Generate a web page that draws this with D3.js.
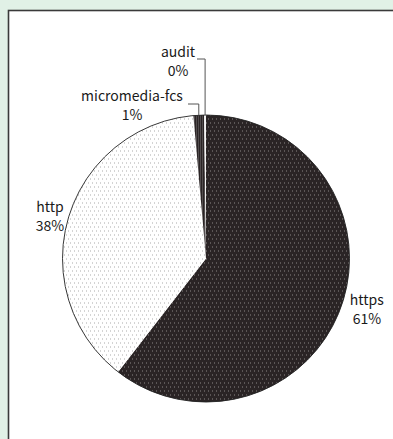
<!DOCTYPE html>
<html><head><meta charset="utf-8">
<script src="https://cdn.jsdelivr.net/npm/d3@7"></script>
<style>
html,body{margin:0;padding:0;background:#e1f1e6;}
svg{display:block;}
</style></head>
<body>
<script>
const categories = ["https", "http", "micromedia-fcs", "audit"];
const values = [60.5, 38.1, 1.2, 0.2];

const W = 393, H = 439;
const cx = 206, cy = 258.5, R = 143.5;

const svg = d3.select("body").append("svg").attr("width", W).attr("height", H);
svg.append("rect").attr("width", W).attr("height", H).attr("fill", "#e1f1e6");
svg.append("rect").attr("x", 8.5).attr("y", 10.5).attr("width", W + 10).attr("height", H + 10)
  .attr("fill", "#fff").attr("stroke", "#3a3a3a").attr("stroke-width", 1.6);

const defs = svg.append("defs");
let p = defs.append("pattern").attr("id", "pHttps").attr("patternUnits", "userSpaceOnUse").attr("width", 4).attr("height", 8);
p.append("rect").attr("width", 4).attr("height", 8).attr("fill", "#2a2425");
p.append("rect").attr("x", 0).attr("y", 0).attr("width", 1).attr("height", 1).attr("fill", "#8c8888");
p.append("rect").attr("x", 2).attr("y", 4).attr("width", 1).attr("height", 1).attr("fill", "#8c8888");
p = defs.append("pattern").attr("id", "pHttp").attr("patternUnits", "userSpaceOnUse").attr("width", 4).attr("height", 8);
p.append("rect").attr("width", 4).attr("height", 8).attr("fill", "#ffffff");
p.append("rect").attr("x", 0).attr("y", 0).attr("width", 1).attr("height", 1).attr("fill", "#a8a8a8");
p.append("rect").attr("x", 2).attr("y", 4).attr("width", 1).attr("height", 1).attr("fill", "#a8a8a8");
p = defs.append("pattern").attr("id", "pMm").attr("patternUnits", "userSpaceOnUse").attr("width", 2).attr("height", 2);
p.append("rect").attr("width", 2).attr("height", 2).attr("fill", "#2a2425");
p.append("rect").attr("x", 0).attr("y", 0).attr("width", 1).attr("height", 1).attr("fill", "#7a7676");

const fills = ["url(#pHttps)", "url(#pHttp)", "url(#pMm)", "#f4f4f4"];

const data = categories.map((c, i) => ({ name: c, value: values[i] }));
const pie = d3.pie().value(d => d.value).sort(null).startAngle(0).endAngle(2 * Math.PI);
const arcs = pie(data);
const arc = d3.arc().innerRadius(0).outerRadius(R);

const g = svg.append("g").attr("transform", `translate(${cx},${cy})`);
g.selectAll("path").data(arcs).enter().append("path")
  .attr("d", arc).attr("fill", (d, i) => fills[i]);
// outer outline
g.append("circle").attr("r", R).attr("fill", "none").attr("stroke", "#222").attr("stroke-width", 0.9);

const total = d3.sum(values);
const font = "'Noto Sans CJK JP', sans-serif";
const fs = 14;
const lineGap = 18.5;

// label layout (relative to pie centre)
const labelLayout = [
  { r: R + 17, dx: 9, dy: -5 },                        // https
  { r: R + 17, dx: -2, dy: -1 },                       // http
  { leader: true, tx: -74, ty: -157.5, lx0: -18, ly: -154.5 }, // micromedia-fcs
  { leader: true, tx: -28, ty: -201.5, lx0: -9, ly: -199.5 }   // audit
];

arcs.forEach((a, i) => {
  const L = labelLayout[i];
  const pct = Math.round(a.data.value / total * 100) + "%";
  const m = (a.startAngle + a.endAngle) / 2;
  let x, y;
  if (!L.leader) {
    x = Math.sin(m) * L.r + L.dx;
    y = -Math.cos(m) * L.r + L.dy;
  } else {
    x = L.tx; y = L.ty;
    const ex = Math.sin(m) * R, ey = -Math.cos(m) * R;
    g.append("path")
      .attr("d", `M${L.lx0},${L.ly}H${ex}V${ey}`)
      .attr("fill", "none").attr("stroke", "#555").attr("stroke-width", 1);
  }
  const t = g.append("text").attr("text-anchor", "middle")
    .attr("font-family", font).attr("font-size", fs).attr("fill", "#1a1a1a");
  t.append("tspan").attr("x", x).attr("y", y).text(a.data.name);
  t.append("tspan").attr("x", x).attr("y", y + lineGap).text(pct);
});
</script>
</body></html>
